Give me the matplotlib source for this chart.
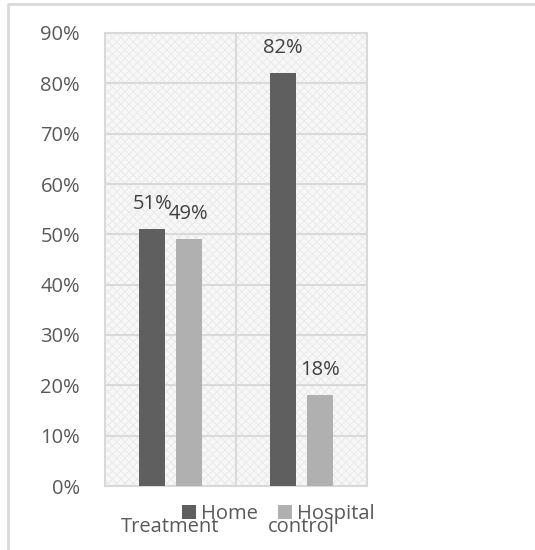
import matplotlib
matplotlib.use("Agg")
import matplotlib.pyplot as plt
from matplotlib.patches import Rectangle
from matplotlib.lines import Line2D

categories = ["Treatment", "control"]
series_names = ["Home", "Hospital"]
home = [51, 82]
hospital = [49, 18]

colors = ["#5f5f5f", "#b0b0b0"]
text_color = "#595959"
grid_color = "#d9d9d9"

plt.rcParams["font.family"] = ["Open Sans", "DejaVu Sans"]
plt.rcParams["hatch.linewidth"] = 0.8

fig = plt.figure(figsize=(5.35, 5.5), dpi=100)
fig.patch.set_facecolor("white")

# outer chart border (top and left only)
fig.add_artist(Line2D([8 / 535, 8 / 535, 1.0], [0.0, 1 - 4 / 550, 1 - 4 / 550],
                      transform=fig.transFigure, color=grid_color, lw=2))

ax = fig.add_axes([105 / 535, 1 - 486 / 550, 262 / 535, 453 / 550])
ax.set_facecolor("white")
ax.add_patch(Rectangle((0, 0), 1, 1, transform=ax.transAxes, facecolor="#f7f7f7",
                       edgecolor="#ebebeb", hatch="xxxx", lw=0, zorder=0))

x = range(len(categories))
width = 0.2
offset = 0.14
bars = []
for i, (vals, name) in enumerate(zip([home, hospital], series_names)):
    pos = [xi + (offset if i else -offset) for xi in x]
    b = ax.bar(pos, vals, width=width, color=colors[i], label=name, zorder=3)
    bars.append(b)
    for rect, v in zip(b, vals):
        ax.annotate(f"{v}%", (rect.get_x() + rect.get_width() / 2, v),
                    xytext=(0, 18), textcoords="offset points",
                    ha="center", va="center", fontsize=14.5, color="#404040")

ax.set_xlim(-0.5, 1.5)
ax.set_ylim(0, 90)
ax.set_yticks(range(0, 91, 10))
ax.set_yticklabels([f"{v}%" for v in range(0, 91, 10)])
ax.set_xticks(list(x))
ax.set_xticklabels(categories)
ax.tick_params(axis="y", length=0, pad=18, labelsize=14.5, labelcolor=text_color)
ax.tick_params(axis="x", length=0, pad=22, labelsize=14.5, labelcolor=text_color)

# gridlines: horizontal at each tick, vertical between categories
for v in range(10, 91, 10):
    ax.axhline(v, color=grid_color, lw=1.5, zorder=1)
ax.axvline(0.5, color=grid_color, lw=1.5, zorder=1)
for s in ax.spines.values():
    s.set_color(grid_color)
    s.set_linewidth(1.5)

leg = fig.legend(handles=bars, labels=series_names, loc="center",
                 bbox_to_anchor=(0.52, 1 - 514 / 550), ncol=2, frameon=False,
                 fontsize=14.5, handlelength=0.7, handleheight=0.7,
                 handletextpad=0.25, columnspacing=1.0, labelcolor=text_color)

fig.savefig("out.png", dpi=100, facecolor="white")
